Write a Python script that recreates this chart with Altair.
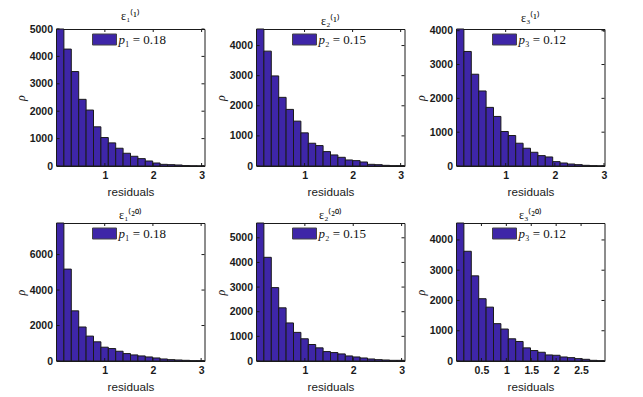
import altair as alt
import pandas as pd

# ---------------- data ----------------
TITLES = ["ε₁⁽¹⁾", "ε₂⁽¹⁾", "ε₃⁽¹⁾", "ε₁⁽²⁰⁾", "ε₂⁽²⁰⁾", "ε₃⁽²⁰⁾"]
LEG_SUB = ["₁ = 0.18", "₂ = 0.15", "₃ = 0.12", "₁ = 0.18", "₂ = 0.15", "₃ = 0.12"]
XMAX = [3.06, 3.08, 3.01, 3.07, 3.06, 2.97]
XTICKS = [[1, 2, 3], [1, 2, 3], [1, 2, 3], [1, 2, 3], [1, 2, 3],
          [0.5, 1, 1.5, 2, 2.5]]
YTICKS = [[0, 1000, 2000, 3000, 4000, 5000],
          [0, 1000, 2000, 3000, 4000],
          [0, 1000, 2000, 3000, 4000],
          [0, 2000, 4000, 6000],
          [0, 1000, 2000, 3000, 4000, 5000],
          [0, 1000, 2000, 3000, 4000]]
COUNTS_1 = [5000, 4267, 3447, 2433, 2042, 1430, 1039, 843, 648, 465,
            355, 269, 183, 110, 61, 49, 37, 15, 8, 5]
COUNTS_2 = [4550, 3815, 2992, 2280, 1880, 1490, 1101, 756, 678, 478,
            367, 289, 200, 178, 133, 56, 44, 22, 11, 11]
COUNTS_3 = [4050, 3386, 2713, 2218, 1733, 1465, 1020, 901, 673, 525,
            406, 307, 267, 129, 89, 59, 40, 20, 10, 5]
COUNTS_4 = [7780, 5181, 2828, 1917, 1404, 1082, 778, 702, 550, 418,
            342, 285, 228, 171, 114, 76, 57, 38, 19, 19]
COUNTS_5 = [5600, 4207, 2978, 2158, 1544, 1161, 902, 669, 533, 382,
            342, 287, 205, 164, 123, 82, 55, 41, 27, 27]
COUNTS_6 = [4560, 3626, 2814, 2058, 1780, 1234, 1056, 734, 645, 434,
            345, 289, 200, 189, 133, 111, 78, 56, 22, 11]
COUNTS = [COUNTS_1, COUNTS_2, COUNTS_3, COUNTS_4, COUNTS_5, COUNTS_6]

BAR_COLOR = "#3e26a8"
EDGE = "#1a1a1a"
W = 148
HEIGHTS = [137, 138]
TICK = 3


def panel(i):
    h = HEIGHTS[i // 3]
    counts = COUNTS[i]
    n = len(counts)
    xmax = XMAX[i]
    bw = xmax / n
    df = pd.DataFrame({
        "x0": [k * bw for k in range(n)],
        "x1": [(k + 1) * bw for k in range(n)],
        "count": counts,
        "base": [0] * n,
    })
    xs = alt.Scale(domain=[0, xmax], nice=False, zero=False)
    ys = alt.Scale(domain=[0, counts[0]], nice=False)
    xa = alt.Axis(values=XTICKS[i], title="residuals", format="~g",
                  grid=False, ticks=False, domain=False)
    ya = alt.Axis(values=YTICKS[i], title="ρ", format="d",
                  grid=False, ticks=False, domain=False)

    bars = alt.Chart(df).mark_rect(
        fill=BAR_COLOR, stroke=EDGE, strokeWidth=1
    ).encode(
        x=alt.X("x0:Q", scale=xs, axis=xa),
        x2="x1:Q",
        y=alt.Y("count:Q", scale=ys, axis=ya),
        y2="base:Q",
    )

    xt = pd.DataFrame({"v": XTICKS[i]})
    yt = pd.DataFrame({"v": YTICKS[i]})
    xtick_b = alt.Chart(xt).mark_rule(color=EDGE, strokeWidth=1).encode(
        x=alt.X("v:Q", scale=xs, axis=xa),
        y=alt.value(h), y2=alt.value(h - TICK))
    xtick_t = alt.Chart(xt).mark_rule(color=EDGE, strokeWidth=1).encode(
        x=alt.X("v:Q", scale=xs, axis=xa),
        y=alt.value(0), y2=alt.value(TICK))
    ytick_l = alt.Chart(yt).mark_rule(color=EDGE, strokeWidth=1).encode(
        y=alt.Y("v:Q", scale=ys, axis=ya),
        x=alt.value(0), x2=alt.value(TICK))
    ytick_r = alt.Chart(yt).mark_rule(color=EDGE, strokeWidth=1).encode(
        y=alt.Y("v:Q", scale=ys, axis=ya),
        x=alt.value(W - TICK), x2=alt.value(W))

    leg = pd.DataFrame({"p": ["p"], "rest": [LEG_SUB[i]]})
    cx = W / 2
    swatch = alt.Chart(leg).mark_rect(
        fill=BAR_COLOR, stroke="#444", strokeWidth=1
    ).encode(x=alt.value(cx - 38), x2=alt.value(cx - 14),
             y=alt.value(5), y2=alt.value(16))
    ptxt = alt.Chart(leg).mark_text(
        font="Liberation Serif", fontSize=13, fontStyle="italic",
        align="left", baseline="middle", color="#111"
    ).encode(x=alt.value(cx - 12), y=alt.value(10.5), text="p:N")
    rtxt = alt.Chart(leg).mark_text(
        font="Liberation Serif", fontSize=13,
        align="left", baseline="middle", color="#111"
    ).encode(x=alt.value(cx - 5.5), y=alt.value(10.5), text="rest:N")

    return alt.layer(
        bars, xtick_b, xtick_t, ytick_l, ytick_r, swatch, ptxt, rtxt
    ).properties(
        width=W, height=h,
        title=alt.TitleParams(
            TITLES[i], font="Liberation Serif", fontSize=12,
            fontWeight="normal", color="#111", offset=1),
    )


chart = alt.concat(
    *[panel(i) for i in range(6)], columns=3,
    spacing={"row": 9, "column": 8}
).properties(
    padding={"left": 5.5, "top": 1, "right": 5, "bottom": 2},
    background="white",
).configure_view(
    stroke=EDGE, strokeWidth=1
).configure_axis(
    domain=False, ticks=False, tickSize=0, grid=False,
    labelFont="Liberation Sans", labelFontSize=10.5, labelFontWeight="bold",
    labelColor="#1a1a1a", labelPadding=4,
    titleFont="Liberation Sans", titleFontWeight="normal", titleColor="#1a1a1a",
).configure_axisX(
    titleFontSize=11.7, titlePadding=5.5, labelFlush=False,
).configure_axisY(
    titleFont="Liberation Serif", titleFontStyle="italic", titleFontSize=12,
    titlePadding=2, labelFlush=False,
)

chart.save("out.html", embed_options={"renderer": "svg", "actions": False})
